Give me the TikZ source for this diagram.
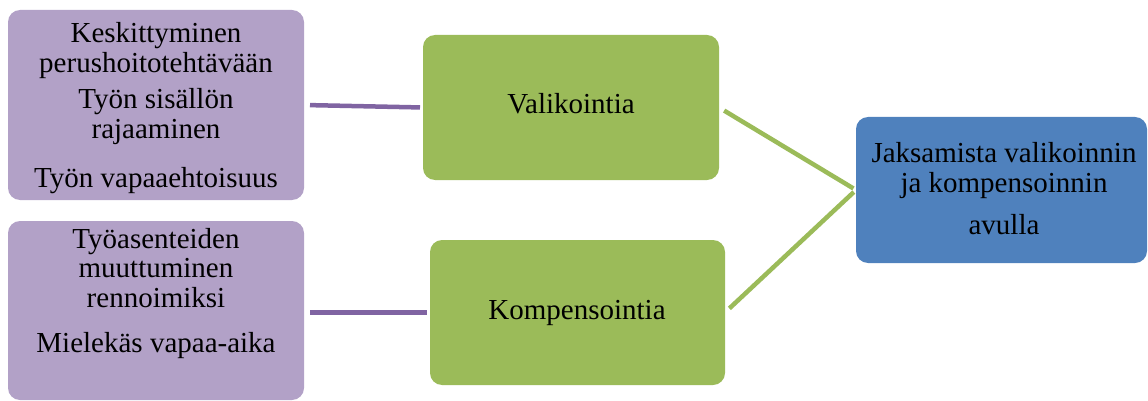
\documentclass[tikz,border=0pt]{standalone}
\usepackage{fontspec}
\setmainfont{Liberation Serif}
\definecolor{lilac}{HTML}{B2A1C7}
\definecolor{plum}{HTML}{8064A2}
\definecolor{leaf}{HTML}{9BBB59}
\definecolor{steel}{HTML}{4F81BD}
\newcommand{\lines}[1]{\begin{tabular}[t]{@{}c@{}}#1\end{tabular}}
\begin{document}
\begin{tikzpicture}[x=1pt,y=-1pt,
  card/.style={rounded corners=12pt, inner sep=0pt, outer sep=0pt},
  lilaccard/.style={card, fill=lilac},
  leafcard/.style={card, fill=leaf},
  steelcard/.style={card, fill=steel},
  txt/.style={anchor=base, inner sep=0pt, font=\fontsize{29}{29.5}\selectfont},
  plumlink/.style={draw=plum, line width=4.5pt, shorten <=6pt, shorten >=3pt},
  leaflink/.style={draw=leaf, line width=4.5pt, shorten <=6pt, shorten >=3pt}]
\useasboundingbox (0,0) rectangle (1148,401);

% boxes
\node[lilaccard, minimum width=296pt, minimum height=190pt] (p1) at (156,105) {};
\node[lilaccard, minimum width=296pt, minimum height=179pt] (p2) at (156,310.5) {};
\node[leafcard, minimum width=296pt, minimum height=145pt] (g1) at (571,107.5) {};
\node[leafcard, minimum width=295pt, minimum height=145pt] (g2) at (577.5,312.5) {};
\node[steelcard, minimum width=291pt, minimum height=146pt] (b) at (1001.5,190) {};

% texts
\node[txt] (t1) at (156,43) {\lines{Keskittyminen\\ perushoitotehtävään\\[7pt] Työn sisällön\\ rajaaminen\\[20pt] Työn vapaaehtoisuus}};
\node[txt] (t2) at (156,248) {\lines{Työasenteiden\\ muuttuminen\\ rennoimiksi\\[16pt] Mielekäs vapaa-aika}};
\node[txt] (t3) at (571,113.5) {Valikointia};
\node[txt] (t4) at (577,319.5) {Kompensointia};
\node[txt] (t5) at (1004,162.5) {\lines{Jaksamista valikoinnin\\ ja kompensoinnin\\[13pt] avulla}};

% connectors
\draw[plumlink] (p1.east) -- (g1.west);
\draw[plumlink] (p2.east |- g2.west) -- (g2.west);
\draw[leaflink] (g1.east) -- (b.west);
\draw[leaflink] (g2.east) -- (b.west);
\end{tikzpicture}
\end{document}
